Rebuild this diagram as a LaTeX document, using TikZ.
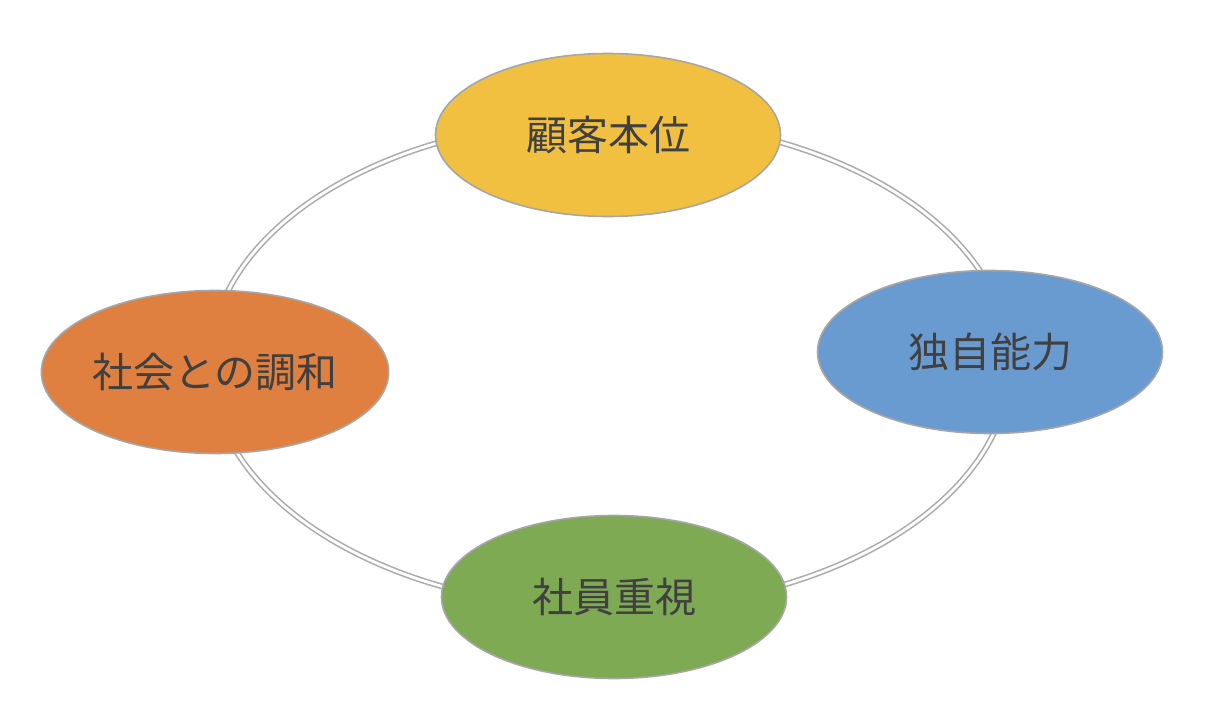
\documentclass[tikz,border=0pt]{standalone}
\usepackage{fontspec}
\usepackage{xcolor}
\usepackage{tikz}
\usetikzlibrary{shapes.geometric}
\newfontfamily\jpfont{Noto Sans CJK JP}
\definecolor{kyellow}{RGB}{242,192,64}
\definecolor{kblue}{RGB}{106,155,208}
\definecolor{korange}{RGB}{224,128,64}
\definecolor{kgreen}{RGB}{126,170,84}
\definecolor{ktext}{RGB}{64,64,64}
\tikzset{every node/.append style={font=\jpfont\fontsize{20.5}{24}\selectfont, text=ktext}}
\tikzset{value/.style={ellipse, draw=gray!70, line width=0.8pt, minimum width=172.5pt, minimum height=81.5pt, inner sep=0pt}}

\begin{document}
\begin{tikzpicture}[x=0.5pt, y=-0.5pt]
    \useasboundingbox (0,0) rectangle (1222,728);
    \coordinate (mid) at (610,364);
    \draw[gray!65, line width=0.8pt, double=white, double distance=1.4pt] (mid) ellipse [x radius=200pt, y radius=122.5pt];
    \node[value, fill=kyellow] (kokyaku) at (608,135) {顧客本位};
    \node[value, fill=kblue] (dokuji) at (990,352) {独自能力};
    \node[value, fill=korange] (shakai) at (215,372) {社会との調和};
    \node[value, fill=kgreen] (shain) at (614,597) {社員重視};
\end{tikzpicture}
\end{document}
